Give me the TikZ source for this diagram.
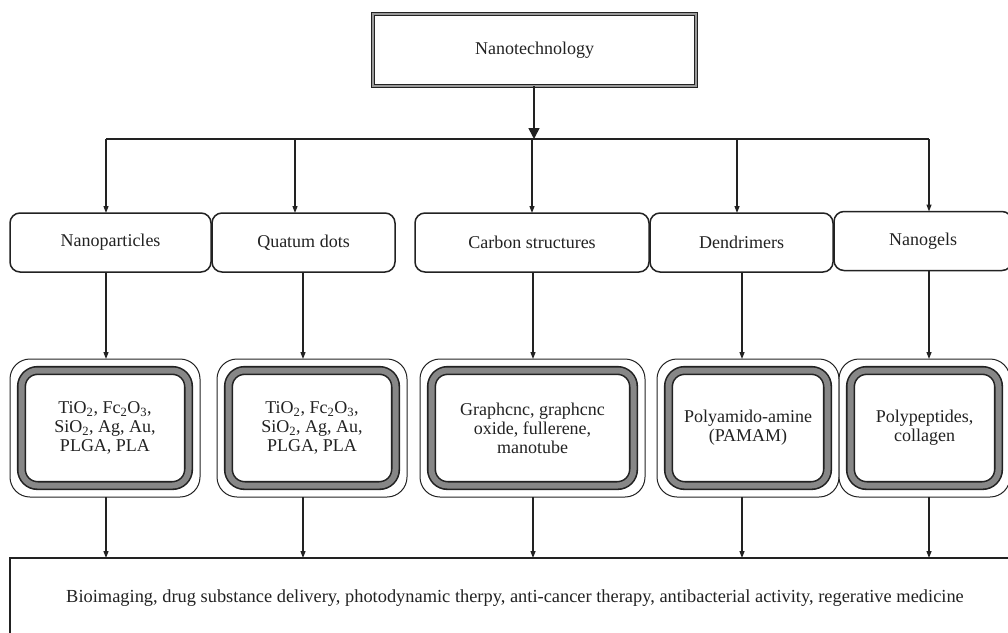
\documentclass[tikz,border=0pt]{standalone}
\usepackage{fontspec}
\setmainfont{Liberation Serif}
\usetikzlibrary{arrows.meta,calc}
\definecolor{ink}{HTML}{222222}
\definecolor{band}{HTML}{878787}
\definecolor{topband}{HTML}{9A9A9A}
\tikzset{
  every node/.style={font=\fontsize{18}{19}\selectfont, text=ink, inner sep=0pt, outer sep=0pt},
  arr/.style={draw=ink, line width=1.2pt, -{Triangle[width=5pt,length=7pt]}},
  bigarr/.style={draw=ink, line width=1.6pt, -{Triangle[width=11pt,length=11pt]}},
  link/.style={draw=ink, line width=1.2pt},
  topbox/.style={draw=ink, line width=1.3pt, double=topband, double distance=2pt, fill=white,
                 minimum width=323pt, minimum height=72pt},
  catbox/.style={draw=ink, line width=1.5pt, rounded corners=10pt, fill=white,
                 minimum height=59pt},
  outerbox/.style={draw=ink, line width=1pt, rounded corners=20pt, fill=white,
                 minimum height=138pt},
  bandbox/.style={draw=ink, line width=1.6pt, double=band, double distance=6pt,
                 rounded corners=16pt, fill=white, align=center, minimum height=115pt},
  resbox/.style={draw=ink, line width=1.6pt, fill=white, minimum width=1010pt, minimum height=80pt,
                 font=\fontsize{18.4}{19}\selectfont}
}
\begin{document}
\begin{tikzpicture}[x=1pt,y=-1pt]
\useasboundingbox (0,0) rectangle (1008,632);
\fill[white] (0,0) rectangle (1008,632);
\clip (0,0) rectangle (1008,632);

% top
\node[topbox] (top) at (534.5,50) {Nanotechnology};

% level 1
\node[catbox, minimum width=201pt] (n1) at (110.5,242.5) {Nanoparticles};
\node[catbox, minimum width=183pt] (n2) at (303.5,242.5) {Quatum dots};
\node[catbox, minimum width=234pt] (n3) at (532,242.5) {Carbon structures};
\node[catbox, minimum width=183pt] (n4) at (741.5,242.5) {Dendrimers};
\node[catbox, minimum width=178pt] (n5) at (923,241) {Nanogels};

% level 2 outer frames
\node[outerbox, minimum width=190pt] (o1) at (105,428) {};
\node[outerbox, minimum width=190pt] (o2) at (312,428) {};
\node[outerbox, minimum width=225pt] (o3) at (532.5,428) {};
\node[outerbox, minimum width=182pt] (o4) at (748,428) {};
\node[outerbox, minimum width=171pt] (o5) at (924.5,428) {};

% level 2 inner frames with text
\node[bandbox, minimum width=167pt] (m1) at (o1.center)
  {TiO\textsubscript{2}, Fc\textsubscript{2}O\textsubscript{3},\\SiO\textsubscript{2}, Ag, Au,\\PLGA, PLA};
\node[bandbox, minimum width=167pt] (m2) at (o2.center)
  {TiO\textsubscript{2}, Fc\textsubscript{2}O\textsubscript{3},\\SiO\textsubscript{2}, Ag, Au,\\PLGA, PLA};
\node[bandbox, minimum width=202pt] (m3) at (o3.center)
  {Graphcnc, graphcnc\\oxide, fullerene,\\manotube};
\node[bandbox, minimum width=159pt] (m4) at (o4.center)
  {Polyamido-amine\\(PAMAM)};
\node[bandbox, minimum width=148pt] (m5) at (o5.center)
  {Polypeptides,\\collagen};

% result
\node[resbox] (res) at (515,598)
  {Bioimaging, drug substance delivery, photodynamic therpy, anti-cancer therapy, antibacterial activity, regerative medicine};

% column x positions
\coordinate (a1) at (106,139);
\coordinate (a2) at (295,139);
\coordinate (a3) at (532,139);
\coordinate (a4) at (737,139);
\coordinate (a5) at (929,139);
\coordinate (a0) at (534,139);
\coordinate (b1) at (106,0);
\coordinate (b2) at (303,0);
\coordinate (b3) at (533,0);
\coordinate (b4) at (742,0);
\coordinate (b5) at (929,0);

% connectors
\draw[link] (a1) -- (a5);
\draw[bigarr] (top.south -| a0) -- (a0);
\foreach \i in {1,...,5} {
  \draw[arr] (a\i) -- (a\i |- n\i.north);
  \draw[arr] (n\i.south -| b\i) -- (o\i.north -| b\i);
  \draw[arr] (o\i.south -| b\i) -- (res.north -| b\i);
}
\end{tikzpicture}
\end{document}
